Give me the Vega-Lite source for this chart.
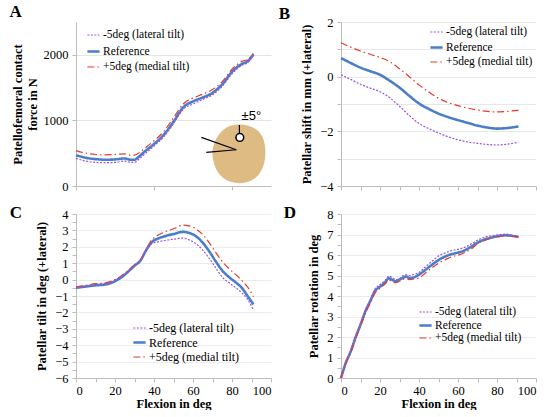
{
  "$schema": "https://vega.github.io/schema/vega-lite/v6.json",
  "padding": {"left": 9, "top": 3, "right": 0, "bottom": 0},
  "background": "white",
  "columns": 2,
  "spacing": {"row": 11, "column": 6},
  "config": {
    "view": {"stroke": null},
    "font": "Liberation Serif",
    "style": {
      "guide-label": {"font": "Liberation Serif", "fill": "black"},
      "guide-title": {"font": "Liberation Serif", "fill": "black"}
    },
    "axis": {
      "labelFont": "Liberation Serif",
      "labelFontSize": 12.5,
      "labelColor": "black",
      "labelOverlap": false,
      "titleFont": "Liberation Serif",
      "titleFontSize": 12.5,
      "titleFontWeight": "bold",
      "titleColor": "black",
      "domainColor": "#bdbdbd",
      "tickColor": "#bdbdbd",
      "tickSize": 4,
      "gridColor": "#e4e4e4"
    },
    "legend": {
      "orient": "none",
      "title": null,
      "labelFont": "Liberation Serif",
      "labelColor": "black",
      "symbolType": "stroke",
      "symbolSize": 150,
      "padding": 0,
      "labelOffset": 2
    },
    "title": {"font": "Liberation Serif", "fontSize": 17, "fontWeight": "bold", "anchor": "start", "frame": "bounds", "color": "black"}
  },
  "resolve": {
    "legend": {"color": "independent", "strokeDash": "independent", "strokeWidth": "independent"},
    "scale": {"x": "independent", "y": "independent"}
  },
  "datasets": {
    "A": [
      {"x": 0, "v": 470, "s": "Reference"}, {"x": 5, "v": 430, "s": "Reference"}, {"x": 10, "v": 410, "s": "Reference"},
      {"x": 15, "v": 400, "s": "Reference"}, {"x": 20, "v": 405, "s": "Reference"}, {"x": 25, "v": 420, "s": "Reference"},
      {"x": 28, "v": 400, "s": "Reference"}, {"x": 30, "v": 400, "s": "Reference"}, {"x": 32, "v": 440, "s": "Reference"},
      {"x": 35, "v": 520, "s": "Reference"}, {"x": 40, "v": 640, "s": "Reference"}, {"x": 45, "v": 780, "s": "Reference"},
      {"x": 50, "v": 980, "s": "Reference"}, {"x": 55, "v": 1200, "s": "Reference"}, {"x": 60, "v": 1290, "s": "Reference"},
      {"x": 65, "v": 1350, "s": "Reference"}, {"x": 70, "v": 1420, "s": "Reference"}, {"x": 75, "v": 1550, "s": "Reference"},
      {"x": 80, "v": 1740, "s": "Reference"}, {"x": 85, "v": 1860, "s": "Reference"}, {"x": 88, "v": 1900, "s": "Reference"},
      {"x": 91, "v": 2010, "s": "Reference"},
      {"x": 0, "v": 540, "s": "+5deg (medial tilt)"}, {"x": 5, "v": 500, "s": "+5deg (medial tilt)"}, {"x": 10, "v": 480, "s": "+5deg (medial tilt)"},
      {"x": 15, "v": 475, "s": "+5deg (medial tilt)"}, {"x": 20, "v": 480, "s": "+5deg (medial tilt)"}, {"x": 25, "v": 490, "s": "+5deg (medial tilt)"},
      {"x": 28, "v": 470, "s": "+5deg (medial tilt)"}, {"x": 30, "v": 470, "s": "+5deg (medial tilt)"}, {"x": 32, "v": 500, "s": "+5deg (medial tilt)"},
      {"x": 35, "v": 570, "s": "+5deg (medial tilt)"}, {"x": 40, "v": 690, "s": "+5deg (medial tilt)"}, {"x": 45, "v": 830, "s": "+5deg (medial tilt)"},
      {"x": 50, "v": 1040, "s": "+5deg (medial tilt)"}, {"x": 55, "v": 1250, "s": "+5deg (medial tilt)"}, {"x": 60, "v": 1340, "s": "+5deg (medial tilt)"},
      {"x": 65, "v": 1400, "s": "+5deg (medial tilt)"}, {"x": 70, "v": 1470, "s": "+5deg (medial tilt)"}, {"x": 75, "v": 1590, "s": "+5deg (medial tilt)"},
      {"x": 80, "v": 1780, "s": "+5deg (medial tilt)"}, {"x": 85, "v": 1900, "s": "+5deg (medial tilt)"}, {"x": 88, "v": 1930, "s": "+5deg (medial tilt)"},
      {"x": 91, "v": 2020, "s": "+5deg (medial tilt)"},
      {"x": 0, "v": 420, "s": "-5deg (lateral tilt)"}, {"x": 5, "v": 380, "s": "-5deg (lateral tilt)"}, {"x": 10, "v": 360, "s": "-5deg (lateral tilt)"},
      {"x": 15, "v": 355, "s": "-5deg (lateral tilt)"}, {"x": 20, "v": 360, "s": "-5deg (lateral tilt)"}, {"x": 25, "v": 380, "s": "-5deg (lateral tilt)"},
      {"x": 28, "v": 360, "s": "-5deg (lateral tilt)"}, {"x": 30, "v": 360, "s": "-5deg (lateral tilt)"}, {"x": 32, "v": 400, "s": "-5deg (lateral tilt)"},
      {"x": 35, "v": 480, "s": "-5deg (lateral tilt)"}, {"x": 40, "v": 610, "s": "-5deg (lateral tilt)"}, {"x": 45, "v": 750, "s": "-5deg (lateral tilt)"},
      {"x": 50, "v": 950, "s": "-5deg (lateral tilt)"}, {"x": 55, "v": 1170, "s": "-5deg (lateral tilt)"}, {"x": 60, "v": 1250, "s": "-5deg (lateral tilt)"},
      {"x": 65, "v": 1320, "s": "-5deg (lateral tilt)"}, {"x": 70, "v": 1390, "s": "-5deg (lateral tilt)"}, {"x": 75, "v": 1520, "s": "-5deg (lateral tilt)"},
      {"x": 80, "v": 1710, "s": "-5deg (lateral tilt)"}, {"x": 85, "v": 1840, "s": "-5deg (lateral tilt)"}, {"x": 88, "v": 1880, "s": "-5deg (lateral tilt)"},
      {"x": 91, "v": 1990, "s": "-5deg (lateral tilt)"}
    ],
    "B": [
      {"x": 0, "v": 0.68, "s": "Reference"}, {"x": 5, "v": 0.5, "s": "Reference"}, {"x": 10, "v": 0.33, "s": "Reference"},
      {"x": 15, "v": 0.2, "s": "Reference"}, {"x": 20, "v": 0.07, "s": "Reference"}, {"x": 25, "v": -0.15, "s": "Reference"},
      {"x": 30, "v": -0.4, "s": "Reference"}, {"x": 35, "v": -0.7, "s": "Reference"}, {"x": 40, "v": -0.98, "s": "Reference"},
      {"x": 45, "v": -1.18, "s": "Reference"}, {"x": 50, "v": -1.35, "s": "Reference"}, {"x": 55, "v": -1.48, "s": "Reference"},
      {"x": 60, "v": -1.59, "s": "Reference"}, {"x": 65, "v": -1.69, "s": "Reference"}, {"x": 70, "v": -1.79, "s": "Reference"},
      {"x": 75, "v": -1.86, "s": "Reference"}, {"x": 80, "v": -1.9, "s": "Reference"}, {"x": 85, "v": -1.88, "s": "Reference"},
      {"x": 91, "v": -1.82, "s": "Reference"},
      {"x": 0, "v": 1.24, "s": "+5deg (medial tilt)"}, {"x": 5, "v": 1.08, "s": "+5deg (medial tilt)"}, {"x": 10, "v": 0.94, "s": "+5deg (medial tilt)"},
      {"x": 15, "v": 0.82, "s": "+5deg (medial tilt)"}, {"x": 20, "v": 0.7, "s": "+5deg (medial tilt)"}, {"x": 25, "v": 0.55, "s": "+5deg (medial tilt)"},
      {"x": 30, "v": 0.29, "s": "+5deg (medial tilt)"}, {"x": 35, "v": 0.0, "s": "+5deg (medial tilt)"}, {"x": 40, "v": -0.3, "s": "+5deg (medial tilt)"},
      {"x": 45, "v": -0.56, "s": "+5deg (medial tilt)"}, {"x": 50, "v": -0.79, "s": "+5deg (medial tilt)"}, {"x": 55, "v": -0.95, "s": "+5deg (medial tilt)"},
      {"x": 60, "v": -1.06, "s": "+5deg (medial tilt)"}, {"x": 65, "v": -1.15, "s": "+5deg (medial tilt)"}, {"x": 70, "v": -1.22, "s": "+5deg (medial tilt)"},
      {"x": 75, "v": -1.27, "s": "+5deg (medial tilt)"}, {"x": 80, "v": -1.29, "s": "+5deg (medial tilt)"}, {"x": 85, "v": -1.27, "s": "+5deg (medial tilt)"},
      {"x": 91, "v": -1.23, "s": "+5deg (medial tilt)"},
      {"x": 0, "v": 0.07, "s": "-5deg (lateral tilt)"}, {"x": 5, "v": -0.1, "s": "-5deg (lateral tilt)"}, {"x": 10, "v": -0.28, "s": "-5deg (lateral tilt)"},
      {"x": 15, "v": -0.42, "s": "-5deg (lateral tilt)"}, {"x": 20, "v": -0.55, "s": "-5deg (lateral tilt)"}, {"x": 25, "v": -0.77, "s": "-5deg (lateral tilt)"},
      {"x": 30, "v": -1.08, "s": "-5deg (lateral tilt)"}, {"x": 35, "v": -1.42, "s": "-5deg (lateral tilt)"}, {"x": 40, "v": -1.71, "s": "-5deg (lateral tilt)"},
      {"x": 45, "v": -1.9, "s": "-5deg (lateral tilt)"}, {"x": 50, "v": -2.06, "s": "-5deg (lateral tilt)"}, {"x": 55, "v": -2.2, "s": "-5deg (lateral tilt)"},
      {"x": 60, "v": -2.31, "s": "-5deg (lateral tilt)"}, {"x": 65, "v": -2.39, "s": "-5deg (lateral tilt)"}, {"x": 70, "v": -2.44, "s": "-5deg (lateral tilt)"},
      {"x": 75, "v": -2.48, "s": "-5deg (lateral tilt)"}, {"x": 80, "v": -2.5, "s": "-5deg (lateral tilt)"}, {"x": 85, "v": -2.47, "s": "-5deg (lateral tilt)"},
      {"x": 91, "v": -2.4, "s": "-5deg (lateral tilt)"}
    ],
    "C": [
      {"x": 0, "v": -0.5, "s": "Reference"}, {"x": 5, "v": -0.42, "s": "Reference"}, {"x": 10, "v": -0.35, "s": "Reference"},
      {"x": 15, "v": -0.3, "s": "Reference"}, {"x": 20, "v": -0.1, "s": "Reference"}, {"x": 25, "v": 0.3, "s": "Reference"},
      {"x": 30, "v": 0.85, "s": "Reference"}, {"x": 33, "v": 1.15, "s": "Reference"}, {"x": 36, "v": 1.8, "s": "Reference"},
      {"x": 39, "v": 2.3, "s": "Reference"}, {"x": 42, "v": 2.5, "s": "Reference"}, {"x": 46, "v": 2.66, "s": "Reference"},
      {"x": 50, "v": 2.78, "s": "Reference"}, {"x": 55, "v": 2.91, "s": "Reference"}, {"x": 58, "v": 2.85, "s": "Reference"},
      {"x": 62, "v": 2.6, "s": "Reference"}, {"x": 65, "v": 2.25, "s": "Reference"}, {"x": 68, "v": 1.78, "s": "Reference"},
      {"x": 72, "v": 1.05, "s": "Reference"}, {"x": 75, "v": 0.55, "s": "Reference"}, {"x": 78, "v": 0.2, "s": "Reference"},
      {"x": 82, "v": -0.18, "s": "Reference"}, {"x": 85, "v": -0.5, "s": "Reference"}, {"x": 88, "v": -1.0, "s": "Reference"},
      {"x": 91, "v": -1.52, "s": "Reference"},
      {"x": 0, "v": -0.45, "s": "+5deg (medial tilt)"}, {"x": 5, "v": -0.35, "s": "+5deg (medial tilt)"}, {"x": 10, "v": -0.25, "s": "+5deg (medial tilt)"},
      {"x": 15, "v": -0.2, "s": "+5deg (medial tilt)"}, {"x": 20, "v": 0.0, "s": "+5deg (medial tilt)"}, {"x": 25, "v": 0.38, "s": "+5deg (medial tilt)"},
      {"x": 30, "v": 0.9, "s": "+5deg (medial tilt)"}, {"x": 33, "v": 1.2, "s": "+5deg (medial tilt)"}, {"x": 36, "v": 1.85, "s": "+5deg (medial tilt)"},
      {"x": 39, "v": 2.45, "s": "+5deg (medial tilt)"}, {"x": 42, "v": 2.7, "s": "+5deg (medial tilt)"}, {"x": 46, "v": 2.93, "s": "+5deg (medial tilt)"},
      {"x": 50, "v": 3.1, "s": "+5deg (medial tilt)"}, {"x": 55, "v": 3.32, "s": "+5deg (medial tilt)"}, {"x": 58, "v": 3.28, "s": "+5deg (medial tilt)"},
      {"x": 62, "v": 3.05, "s": "+5deg (medial tilt)"}, {"x": 65, "v": 2.75, "s": "+5deg (medial tilt)"}, {"x": 68, "v": 2.3, "s": "+5deg (medial tilt)"},
      {"x": 72, "v": 1.6, "s": "+5deg (medial tilt)"}, {"x": 75, "v": 1.1, "s": "+5deg (medial tilt)"}, {"x": 78, "v": 0.72, "s": "+5deg (medial tilt)"},
      {"x": 82, "v": 0.3, "s": "+5deg (medial tilt)"}, {"x": 85, "v": -0.05, "s": "+5deg (medial tilt)"}, {"x": 88, "v": -0.45, "s": "+5deg (medial tilt)"},
      {"x": 91, "v": -1.05, "s": "+5deg (medial tilt)"},
      {"x": 0, "v": -0.48, "s": "-5deg (lateral tilt)"}, {"x": 5, "v": -0.4, "s": "-5deg (lateral tilt)"}, {"x": 10, "v": -0.3, "s": "-5deg (lateral tilt)"},
      {"x": 15, "v": -0.25, "s": "-5deg (lateral tilt)"}, {"x": 20, "v": -0.05, "s": "-5deg (lateral tilt)"}, {"x": 25, "v": 0.35, "s": "-5deg (lateral tilt)"},
      {"x": 30, "v": 0.88, "s": "-5deg (lateral tilt)"}, {"x": 33, "v": 1.18, "s": "-5deg (lateral tilt)"}, {"x": 36, "v": 1.8, "s": "-5deg (lateral tilt)"},
      {"x": 39, "v": 2.2, "s": "-5deg (lateral tilt)"}, {"x": 42, "v": 2.3, "s": "-5deg (lateral tilt)"}, {"x": 46, "v": 2.4, "s": "-5deg (lateral tilt)"},
      {"x": 50, "v": 2.46, "s": "-5deg (lateral tilt)"}, {"x": 55, "v": 2.53, "s": "-5deg (lateral tilt)"}, {"x": 58, "v": 2.42, "s": "-5deg (lateral tilt)"},
      {"x": 62, "v": 2.15, "s": "-5deg (lateral tilt)"}, {"x": 65, "v": 1.8, "s": "-5deg (lateral tilt)"}, {"x": 68, "v": 1.35, "s": "-5deg (lateral tilt)"},
      {"x": 72, "v": 0.65, "s": "-5deg (lateral tilt)"}, {"x": 75, "v": 0.15, "s": "-5deg (lateral tilt)"}, {"x": 78, "v": -0.15, "s": "-5deg (lateral tilt)"},
      {"x": 82, "v": -0.5, "s": "-5deg (lateral tilt)"}, {"x": 85, "v": -0.8, "s": "-5deg (lateral tilt)"}, {"x": 88, "v": -1.2, "s": "-5deg (lateral tilt)"},
      {"x": 91, "v": -1.86, "s": "-5deg (lateral tilt)"}
    ],
    "D": [
      {"x": 0, "v": 0, "s": "Reference"}, {"x": 2.5, "v": 0.75, "s": "Reference"}, {"x": 5, "v": 1.3, "s": "Reference"},
      {"x": 7.5, "v": 1.99, "s": "Reference"}, {"x": 10, "v": 2.6, "s": "Reference"}, {"x": 12.5, "v": 3.25, "s": "Reference"},
      {"x": 15, "v": 3.75, "s": "Reference"}, {"x": 17.5, "v": 4.25, "s": "Reference"}, {"x": 20, "v": 4.45, "s": "Reference"},
      {"x": 22.5, "v": 4.65, "s": "Reference"}, {"x": 24.6, "v": 4.87, "s": "Reference"}, {"x": 26, "v": 4.8, "s": "Reference"},
      {"x": 28, "v": 4.72, "s": "Reference"}, {"x": 30, "v": 4.8, "s": "Reference"}, {"x": 32, "v": 4.9, "s": "Reference"},
      {"x": 33.5, "v": 4.95, "s": "Reference"}, {"x": 35, "v": 4.88, "s": "Reference"}, {"x": 37, "v": 4.9, "s": "Reference"},
      {"x": 40, "v": 5.04, "s": "Reference"}, {"x": 43, "v": 5.25, "s": "Reference"}, {"x": 47, "v": 5.55, "s": "Reference"},
      {"x": 50, "v": 5.75, "s": "Reference"}, {"x": 54, "v": 5.95, "s": "Reference"}, {"x": 57, "v": 6.05, "s": "Reference"},
      {"x": 61, "v": 6.14, "s": "Reference"}, {"x": 64, "v": 6.25, "s": "Reference"}, {"x": 67, "v": 6.42, "s": "Reference"},
      {"x": 70, "v": 6.6, "s": "Reference"}, {"x": 74, "v": 6.77, "s": "Reference"}, {"x": 78, "v": 6.87, "s": "Reference"},
      {"x": 81, "v": 6.93, "s": "Reference"}, {"x": 84.5, "v": 6.96, "s": "Reference"}, {"x": 88, "v": 6.93, "s": "Reference"},
      {"x": 91, "v": 6.88, "s": "Reference"},
      {"x": 0, "v": 0, "s": "-5deg (lateral tilt)"}, {"x": 2.5, "v": 0.78, "s": "-5deg (lateral tilt)"}, {"x": 5, "v": 1.33, "s": "-5deg (lateral tilt)"},
      {"x": 7.5, "v": 2.02, "s": "-5deg (lateral tilt)"}, {"x": 10, "v": 2.65, "s": "-5deg (lateral tilt)"}, {"x": 12.5, "v": 3.3, "s": "-5deg (lateral tilt)"},
      {"x": 15, "v": 3.82, "s": "-5deg (lateral tilt)"}, {"x": 17.5, "v": 4.35, "s": "-5deg (lateral tilt)"}, {"x": 20, "v": 4.55, "s": "-5deg (lateral tilt)"},
      {"x": 22.5, "v": 4.75, "s": "-5deg (lateral tilt)"}, {"x": 24.6, "v": 4.97, "s": "-5deg (lateral tilt)"}, {"x": 26, "v": 4.92, "s": "-5deg (lateral tilt)"},
      {"x": 28, "v": 4.8, "s": "-5deg (lateral tilt)"}, {"x": 30, "v": 4.85, "s": "-5deg (lateral tilt)"}, {"x": 32, "v": 5.0, "s": "-5deg (lateral tilt)"},
      {"x": 33.5, "v": 5.03, "s": "-5deg (lateral tilt)"}, {"x": 35, "v": 5.0, "s": "-5deg (lateral tilt)"}, {"x": 37, "v": 5.05, "s": "-5deg (lateral tilt)"},
      {"x": 40, "v": 5.15, "s": "-5deg (lateral tilt)"}, {"x": 43, "v": 5.4, "s": "-5deg (lateral tilt)"}, {"x": 47, "v": 5.72, "s": "-5deg (lateral tilt)"},
      {"x": 50, "v": 5.95, "s": "-5deg (lateral tilt)"}, {"x": 54, "v": 6.12, "s": "-5deg (lateral tilt)"}, {"x": 57, "v": 6.22, "s": "-5deg (lateral tilt)"},
      {"x": 61, "v": 6.3, "s": "-5deg (lateral tilt)"}, {"x": 64, "v": 6.4, "s": "-5deg (lateral tilt)"}, {"x": 67, "v": 6.55, "s": "-5deg (lateral tilt)"},
      {"x": 70, "v": 6.72, "s": "-5deg (lateral tilt)"}, {"x": 74, "v": 6.88, "s": "-5deg (lateral tilt)"}, {"x": 78, "v": 6.95, "s": "-5deg (lateral tilt)"},
      {"x": 81, "v": 6.99, "s": "-5deg (lateral tilt)"}, {"x": 84.5, "v": 7.02, "s": "-5deg (lateral tilt)"}, {"x": 88, "v": 6.96, "s": "-5deg (lateral tilt)"},
      {"x": 91, "v": 6.88, "s": "-5deg (lateral tilt)"},
      {"x": 0, "v": 0, "s": "+5deg (medial tilt)"}, {"x": 2.5, "v": 0.72, "s": "+5deg (medial tilt)"}, {"x": 5, "v": 1.25, "s": "+5deg (medial tilt)"},
      {"x": 7.5, "v": 1.92, "s": "+5deg (medial tilt)"}, {"x": 10, "v": 2.52, "s": "+5deg (medial tilt)"}, {"x": 12.5, "v": 3.15, "s": "+5deg (medial tilt)"},
      {"x": 15, "v": 3.65, "s": "+5deg (medial tilt)"}, {"x": 17.5, "v": 4.15, "s": "+5deg (medial tilt)"}, {"x": 20, "v": 4.38, "s": "+5deg (medial tilt)"},
      {"x": 22.5, "v": 4.58, "s": "+5deg (medial tilt)"}, {"x": 24.6, "v": 4.78, "s": "+5deg (medial tilt)"}, {"x": 26, "v": 4.72, "s": "+5deg (medial tilt)"},
      {"x": 28, "v": 4.65, "s": "+5deg (medial tilt)"}, {"x": 30, "v": 4.72, "s": "+5deg (medial tilt)"}, {"x": 32, "v": 4.82, "s": "+5deg (medial tilt)"},
      {"x": 33.5, "v": 4.85, "s": "+5deg (medial tilt)"}, {"x": 35, "v": 4.8, "s": "+5deg (medial tilt)"}, {"x": 37, "v": 4.82, "s": "+5deg (medial tilt)"},
      {"x": 40, "v": 4.88, "s": "+5deg (medial tilt)"}, {"x": 43, "v": 5.1, "s": "+5deg (medial tilt)"}, {"x": 47, "v": 5.4, "s": "+5deg (medial tilt)"},
      {"x": 50, "v": 5.6, "s": "+5deg (medial tilt)"}, {"x": 54, "v": 5.8, "s": "+5deg (medial tilt)"}, {"x": 57, "v": 5.92, "s": "+5deg (medial tilt)"},
      {"x": 61, "v": 6.02, "s": "+5deg (medial tilt)"}, {"x": 64, "v": 6.15, "s": "+5deg (medial tilt)"}, {"x": 67, "v": 6.3, "s": "+5deg (medial tilt)"},
      {"x": 70, "v": 6.55, "s": "+5deg (medial tilt)"}, {"x": 74, "v": 6.72, "s": "+5deg (medial tilt)"}, {"x": 78, "v": 6.85, "s": "+5deg (medial tilt)"},
      {"x": 81, "v": 6.9, "s": "+5deg (medial tilt)"}, {"x": 84.5, "v": 6.93, "s": "+5deg (medial tilt)"}, {"x": 88, "v": 6.92, "s": "+5deg (medial tilt)"},
      {"x": 91, "v": 6.87, "s": "+5deg (medial tilt)"}
    ],
    "insetBlob": [{"x": 83.6, "y": 488}],
    "insetArrows": [
      {"x": 82.2, "y": 553, "x2": 64.3, "y2": 742},
      {"x": 82.2, "y": 553, "x2": 66.8, "y2": 513},
      {"x": 83.8, "y": 760, "x2": 83.8, "y2": 930}
    ],
    "insetRing": [{"x": 84, "y": 740}],
    "insetText": [{"x": 89.9, "y": 1062, "t": "±5°"}]
  },
  "concat": [
    {
      "width": 195,
      "height": 164,
      "title": {"text": "A", "dx": -2, "offset": 1},
      "layer": [
        {
          "data": {"name": "insetBlob"},
          "mark": {"type": "point", "filled": true, "color": "#dfbb84", "opacity": 1, "size": 3100, "shape": "M-0.15,-1.05 C0.35,-1.1 0.8,-0.9 0.9,-0.45 C1,-0.05 0.95,0.45 0.7,0.75 C0.45,1.05 0.05,1.1 -0.3,1 C-0.65,0.9 -0.9,0.55 -0.95,0.1 C-1,-0.4 -0.65,-1 -0.15,-1.05 Z"},
          "encoding": {
            "x": {"field": "x", "type": "quantitative", "scale": {"domain": [0, 100]}},
            "y": {"field": "y", "type": "quantitative", "scale": {"domain": [0, 2500]}}
          }
        },
        {
          "data": {"name": "insetArrows"},
          "mark": {"type": "rule", "color": "black", "strokeWidth": 1.2},
          "encoding": {
            "x": {"field": "x", "type": "quantitative"},
            "y": {"field": "y", "type": "quantitative"},
            "x2": {"field": "x2"},
            "y2": {"field": "y2"}
          }
        },
        {
          "data": {"name": "insetRing"},
          "mark": {"type": "point", "filled": true, "color": "white", "stroke": "black", "strokeWidth": 1.5, "size": 60, "opacity": 1},
          "encoding": {
            "x": {"field": "x", "type": "quantitative"},
            "y": {"field": "y", "type": "quantitative"}
          }
        },
        {
          "data": {"name": "insetText"},
          "mark": {"type": "text", "font": "Liberation Sans", "fontSize": 13, "color": "black"},
          "encoding": {
            "x": {"field": "x", "type": "quantitative"},
            "y": {"field": "y", "type": "quantitative"},
            "text": {"field": "t"}
          }
        },
        {
          "data": {"name": "A"},
          "mark": {"type": "line", "interpolate": "monotone"},
          "encoding": {
            "x": {"field": "x", "type": "quantitative", "scale": {"domain": [0, 100], "nice": false},
              "axis": {"values": [0, 10, 20, 30, 40, 50, 60, 70, 80, 90, 100], "labels": false, "title": null, "grid": false}},
            "y": {"field": "v", "type": "quantitative", "scale": {"domain": [0, 2500], "nice": false},
              "axis": {"values": [0, 250, 500, 750, 1000, 1250, 1500, 1750, 2000, 2250, 2500],
                "labelExpr": "datum.value % 500 === 0 ? format(datum.value, 'd') : ''",
                "labelFont": "Liberation Serif",
                "titleFont": "Liberation Serif",
                "gridColor": {"condition": {"test": "datum.value % 500 === 0 && datum.value > 0", "value": "#e4e4e4"}, "value": "transparent"},
                "title": ["Patellofemoral contact", "force in N"], "titlePadding": 4, "labelPadding": 4}},
            "color": {"field": "s", "type": "nominal",
              "scale": {"domain": ["-5deg (lateral tilt)", "Reference", "+5deg (medial tilt)"], "range": ["#9b52e0", "#4a7ec8", "#e8382f"]},
              "legend": {"legendX": 10, "legendY": 6, "labelFontSize": 11.5, "rowPadding": 3, "labelFont": "Liberation Serif"}},
            "strokeDash": {"field": "s", "type": "nominal",
              "scale": {"domain": ["-5deg (lateral tilt)", "Reference", "+5deg (medial tilt)"], "range": [[2, 1.5], [1, 0], [7, 3, 1.5, 3]]},
              "legend": {"legendX": 10, "legendY": 6, "labelFontSize": 11.5, "rowPadding": 3, "labelFont": "Liberation Serif"}},
            "strokeWidth": {"field": "s", "type": "nominal",
              "scale": {"type": "ordinal", "domain": ["-5deg (lateral tilt)", "Reference", "+5deg (medial tilt)"], "range": [1.2, 2.6, 1.2]},
              "legend": {"legendX": 10, "legendY": 6, "labelFontSize": 11.5, "rowPadding": 3, "labelFont": "Liberation Serif"}}
          }
        }
      ]
    },
    {
      "width": 195,
      "height": 164,
      "title": {"text": "B", "dx": -22, "offset": -7},
      "data": {"name": "B"},
      "mark": {"type": "line", "interpolate": "monotone"},
      "encoding": {
        "x": {"field": "x", "type": "quantitative", "scale": {"domain": [0, 100], "nice": false},
          "axis": {"values": [0, 10, 20, 30, 40, 50, 60, 70, 80, 90, 100], "labels": false, "title": null, "grid": false}},
        "y": {"field": "v", "type": "quantitative", "scale": {"domain": [-4, 2], "nice": false},
          "axis": {"values": [-4, -3, -2, -1, 0, 1, 2],
            "labelExpr": "datum.value % 2 === 0 ? format(datum.value, 'd') : ''",
            "labelFont": "Liberation Serif",
            "titleFont": "Liberation Serif",
            "gridColor": {"condition": {"test": "datum.value > -4", "value": "#e8e8e8"}, "value": "transparent"},
            "title": "Patellar shift in mm (+lateral)", "titlePadding": 6, "labelPadding": 4}},
        "color": {"field": "s", "type": "nominal",
          "scale": {"domain": ["-5deg (lateral tilt)", "Reference", "+5deg (medial tilt)"], "range": ["#9b52e0", "#4a7ec8", "#e8382f"]},
          "legend": {"legendX": 88, "legendY": 3, "labelFontSize": 11.5, "rowPadding": 2, "labelFont": "Liberation Serif"}},
        "strokeDash": {"field": "s", "type": "nominal",
          "scale": {"domain": ["-5deg (lateral tilt)", "Reference", "+5deg (medial tilt)"], "range": [[2, 1.5], [1, 0], [7, 3, 1.5, 3]]},
          "legend": {"legendX": 88, "legendY": 3, "labelFontSize": 11.5, "rowPadding": 2, "labelFont": "Liberation Serif"}},
        "strokeWidth": {"field": "s", "type": "nominal",
          "scale": {"type": "ordinal", "domain": ["-5deg (lateral tilt)", "Reference", "+5deg (medial tilt)"], "range": [1.2, 2.6, 1.2]},
          "legend": {"legendX": 88, "legendY": 3, "labelFontSize": 11.5, "rowPadding": 2, "labelFont": "Liberation Serif"}}
      }
    },
    {
      "width": 195,
      "height": 164,
      "title": {"text": "C", "dx": -26, "offset": -14},
      "data": {"name": "C"},
      "mark": {"type": "line", "interpolate": "monotone"},
      "encoding": {
        "x": {"field": "x", "type": "quantitative", "scale": {"domain": [0, 100], "nice": false},
          "axis": {"values": [0, 10, 20, 30, 40, 50, 60, 70, 80, 90, 100],
            "labelExpr": "datum.value % 20 === 0 ? format(datum.value, 'd') : ''",
            "labelFont": "Liberation Serif",
            "titleFont": "Liberation Serif",
            "title": "Flexion in deg", "grid": false, "titlePadding": 1, "labelPadding": 2}},
        "y": {"field": "v", "type": "quantitative", "scale": {"domain": [-6, 4], "nice": false},
          "axis": {"values": [-6, -5.5, -5, -4.5, -4, -3.5, -3, -2.5, -2, -1.5, -1, -0.5, 0, 0.5, 1, 1.5, 2, 2.5, 3, 3.5, 4],
            "labelExpr": "datum.value % 1 === 0 ? format(datum.value, 'd') : ''",
            "labelFont": "Liberation Serif",
            "titleFont": "Liberation Serif",
            "gridColor": {"condition": {"test": "datum.value % 1 === 0 && datum.value > -6", "value": "#ececec"}, "value": "transparent"},
            "title": "Patellar tilt in deg (+lateral)", "titlePadding": 6, "labelPadding": 4}},
        "color": {"field": "s", "type": "nominal",
          "scale": {"domain": ["-5deg (lateral tilt)", "Reference", "+5deg (medial tilt)"], "range": ["#9b52e0", "#4a7ec8", "#e8382f"]},
          "legend": {"legendX": 56, "legendY": 107, "labelFontSize": 12, "rowPadding": 1, "labelFont": "Liberation Serif"}},
        "strokeDash": {"field": "s", "type": "nominal",
          "scale": {"domain": ["-5deg (lateral tilt)", "Reference", "+5deg (medial tilt)"], "range": [[2, 1.5], [1, 0], [7, 3, 1.5, 3]]},
          "legend": {"legendX": 56, "legendY": 107, "labelFontSize": 12, "rowPadding": 1, "labelFont": "Liberation Serif"}},
        "strokeWidth": {"field": "s", "type": "nominal",
          "scale": {"type": "ordinal", "domain": ["-5deg (lateral tilt)", "Reference", "+5deg (medial tilt)"], "range": [1.2, 2.6, 1.2]},
          "legend": {"legendX": 56, "legendY": 107, "labelFontSize": 12, "rowPadding": 1, "labelFont": "Liberation Serif"}}
      }
    },
    {
      "width": 195,
      "height": 164,
      "title": {"text": "D", "dx": -24, "offset": -14},
      "data": {"name": "D"},
      "mark": {"type": "line", "interpolate": "monotone"},
      "encoding": {
        "x": {"field": "x", "type": "quantitative", "scale": {"domain": [0, 100], "nice": false},
          "axis": {"values": [0, 10, 20, 30, 40, 50, 60, 70, 80, 90, 100],
            "labelExpr": "datum.value % 20 === 0 ? format(datum.value, 'd') : ''",
            "labelFont": "Liberation Serif",
            "titleFont": "Liberation Serif",
            "title": "Flexion in deg", "grid": false, "titlePadding": 1, "labelPadding": 2}},
        "y": {"field": "v", "type": "quantitative", "scale": {"domain": [0, 8], "nice": false},
          "axis": {"values": [0, 0.5, 1, 1.5, 2, 2.5, 3, 3.5, 4, 4.5, 5, 5.5, 6, 6.5, 7, 7.5, 8],
            "labelExpr": "datum.value % 1 === 0 ? format(datum.value, 'd') : ''",
            "labelFont": "Liberation Serif",
            "titleFont": "Liberation Serif",
            "gridColor": {"condition": {"test": "datum.value % 1 === 0 && datum.value > 0", "value": "#ececec"}, "value": "transparent"},
            "title": "Patellar rotation in deg", "titlePadding": 6, "labelPadding": 4}},
        "color": {"field": "s", "type": "nominal",
          "scale": {"domain": ["-5deg (lateral tilt)", "Reference", "+5deg (medial tilt)"], "range": ["#9b52e0", "#4a7ec8", "#e8382f"]},
          "legend": {"legendX": 77, "legendY": 91, "labelFontSize": 11.5, "rowPadding": 0, "labelFont": "Liberation Serif"}},
        "strokeDash": {"field": "s", "type": "nominal",
          "scale": {"domain": ["-5deg (lateral tilt)", "Reference", "+5deg (medial tilt)"], "range": [[2, 1.5], [1, 0], [7, 3, 1.5, 3]]},
          "legend": {"legendX": 77, "legendY": 91, "labelFontSize": 11.5, "rowPadding": 0, "labelFont": "Liberation Serif"}},
        "strokeWidth": {"field": "s", "type": "nominal",
          "scale": {"type": "ordinal", "domain": ["-5deg (lateral tilt)", "Reference", "+5deg (medial tilt)"], "range": [1.2, 2.6, 1.2]},
          "legend": {"legendX": 77, "legendY": 91, "labelFontSize": 11.5, "rowPadding": 0, "labelFont": "Liberation Serif"}}
      }
    }
  ]
}
